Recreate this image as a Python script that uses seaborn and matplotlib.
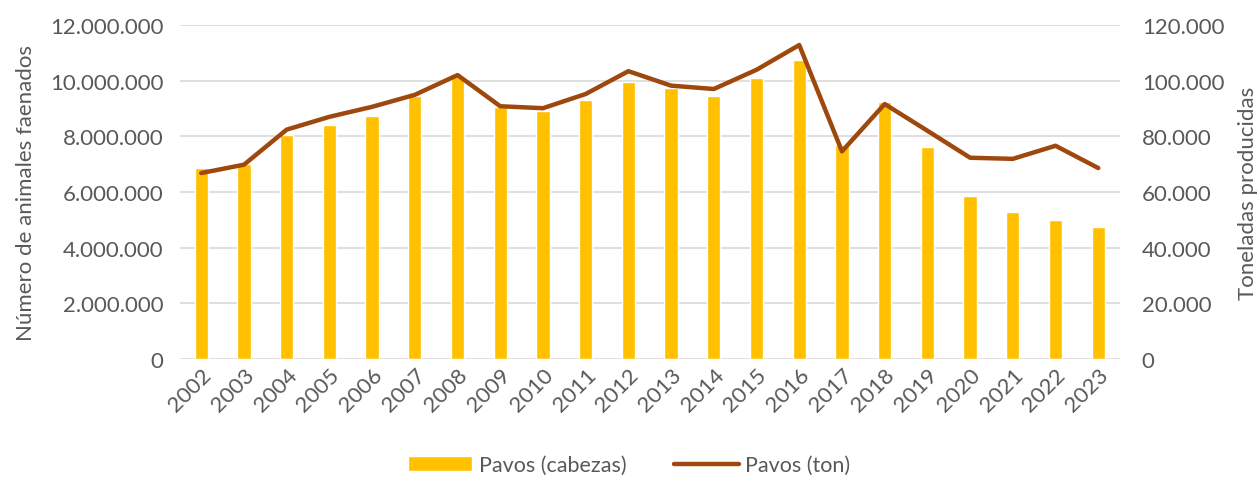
import pandas as pd
import matplotlib
matplotlib.use("Agg")
import matplotlib.pyplot as plt
from matplotlib.ticker import FuncFormatter, MultipleLocator
import seaborn as sns

years = [str(y) for y in range(2002, 2024)]
cabezas = [6860000, 7000000, 8030000, 8410000, 8720000, 9460000, 10180000, 9040000,
           8920000, 9320000, 9960000, 9720000, 9460000, 10110000, 10740000, 7670000,
           9250000, 7630000, 5860000, 5270000, 5000000, 4740000]
toneladas = [66800, 69800, 82400, 87000, 90600, 94900, 102000, 90800,
             90100, 95200, 103400, 98200, 97000, 103900, 112800, 74600,
             91600, 82000, 72300, 71900, 76600, 68600]

df = pd.DataFrame({"Anio": years, "Cabezas": cabezas, "Toneladas": toneladas})

sns.set_theme(style="white")
plt.rcParams['font.family'] = ['Lato', 'DejaVu Sans']
text_color = "#595959"

fig = plt.figure(figsize=(12.58, 4.81), dpi=100)
ax = fig.add_axes([0.143, 0.2516, 0.747, 0.6944])

sns.barplot(data=df, x="Anio", y="Cabezas", color="#FFC000", saturation=1,
            width=0.31, ax=ax, label="Pavos (cabezas)", zorder=2)
ax.set_ylim(0, 12000000)
ax.yaxis.set_major_locator(MultipleLocator(2000000))
ax.grid(axis="y", color="#D9D9D9", linewidth=1.2, zorder=0)
ax.set_axisbelow(True)

ax2 = ax.twinx()
sns.lineplot(data=df, x="Anio", y="Toneladas", color="#9E480E", linewidth=3.2,
             ax=ax2, label="Pavos (ton)", solid_capstyle="round")
ax2.set_ylim(0, 120000)
ax2.yaxis.set_major_locator(MultipleLocator(20000))
ax.set_xlim(-0.5, len(years) - 0.5)

fmt = FuncFormatter(lambda v, p: f"{v:,.0f}".replace(",", "."))
ax.yaxis.set_major_formatter(fmt)
ax2.yaxis.set_major_formatter(fmt)

for a in (ax, ax2):
    for s in a.spines.values():
        s.set_visible(False)
    a.tick_params(axis="both", length=0, labelsize=16, colors=text_color)
    a.set_xlabel("")

ax.set_ylabel("Número de animales faenados", fontsize=16, color=text_color, labelpad=10)
ax2.set_ylabel("Toneladas producidas", fontsize=16, color=text_color, labelpad=10)
ax.tick_params(axis="y", pad=12)
ax2.tick_params(axis="y", pad=16)
plt.setp(ax.get_xticklabels(), rotation=45, ha="right", rotation_mode="anchor")
ax.tick_params(axis="x", pad=4)

h1, l1 = ax.get_legend_handles_labels()
h2, l2 = ax2.get_legend_handles_labels()
if ax2.get_legend():
    ax2.get_legend().remove()
if ax.get_legend():
    ax.get_legend().remove()
leg = fig.legend(h1 + h2, l1 + l2, loc="lower center", bbox_to_anchor=(0.5, -0.03),
                 ncol=2, frameon=False, fontsize=15.5, handlelength=3.0,
                 columnspacing=2.2, handletextpad=0.3)
for t in leg.get_texts():
    t.set_color(text_color)

fig.savefig("out.png", dpi=100)
